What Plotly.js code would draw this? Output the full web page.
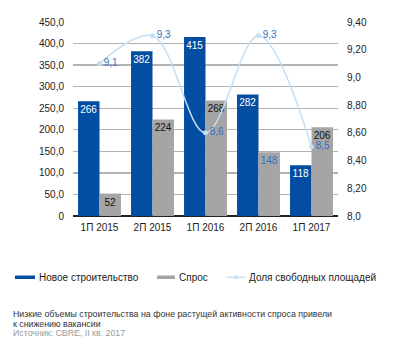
<!DOCTYPE html>
<html>
<head>
<meta charset="utf-8">
<script src="https://cdn.plot.ly/plotly-3.0.1.min.js"></script>
<style>html,body{margin:0;padding:0;background:#fff;}#chart{width:400px;height:347px;}</style>
</head>
<body>
<div id="chart"></div>
<script>
var categories = ["1П 2015", "2П 2015", "1П 2016", "2П 2016", "1П 2017"];
var newConstruction = [266, 382, 415, 282, 118];
var demand = [52, 224, 268, 148, 206];
var vacancy = [9.1, 9.3, 8.6, 9.3, 8.5];
var leftTickVals = [0, 50, 100, 150, 200, 250, 300, 350, 400, 450];
var leftTickText = ["0", "50,0", "100,0", "150,0", "200,0", "250,0", "300,0", "350,0", "400,0", "450,0"];
var rightTickVals = [8.0, 8.2, 8.4, 8.6, 8.8, 9.0, 9.2, 9.4];
var rightTickText = ["8,0", "8,20", "8,40", "8,60", "8,80", "9,0", "9,20", "9,40"];
var seriesNames = ["Новое строительство", "Спрос", "Доля свободных площадей"];
var captionLines = ["Низкие объемы строительства на фоне растущей активности спроса привели", "к снижению вакансии", "Источник: CBRE, II кв. 2017"];

var BLUE = "#034ea2", GRAY = "#a5a5a5", LINE = "#c4def3", LBLUE = "#2f72c0";
var FONT = "Liberation Sans, Arial, sans-serif";
var demandTextColors = demand.map(function (v, i) { return i === 3 ? LBLUE : "#111"; });

var traces = [
  {
    type: "bar", x: categories, y: newConstruction, name: seriesNames[0],
    marker: { color: BLUE }, text: newConstruction.map(String),
    textposition: "inside", insidetextanchor: "end", textangle: 0, constraintext: "none",
    textfont: { color: "#fff", size: 10, family: FONT }, cliponaxis: false
  },
  {
    type: "bar", x: categories, y: demand, name: seriesNames[1],
    marker: { color: GRAY }, text: demand.map(String),
    textposition: "inside", insidetextanchor: "end", textangle: 0, constraintext: "none",
    textfont: { color: demandTextColors, size: 10, family: FONT }, cliponaxis: false
  },
  {
    type: "scatter", mode: "lines+markers+text", x: categories, y: vacancy, yaxis: "y2",
    name: seriesNames[2],
    line: { color: LINE, width: 1.5, shape: "spline", smoothing: 1 },
    marker: { color: LINE, size: 5 },
    text: vacancy.map(function (v) { return v.toFixed(1).replace(".", ","); }),
    textposition: "middle right",
    textfont: { color: LBLUE, size: 10, family: FONT }, cliponaxis: false
  }
];

var W = 400, H = 347, L = 73, R = 62, T = 22, B = 131;
var pw = W - L - R, ph = H - T - B;
function px(x) { return (x - L) / pw; }
function py(y) { return (H - B - y) / ph; }

var shapes = [
  { type: "rect", xref: "paper", yref: "paper", x0: px(15), x1: px(35), y0: py(279), y1: py(275.5), fillcolor: BLUE, line: { width: 0 } },
  { type: "rect", xref: "paper", yref: "paper", x0: px(157), x1: px(175), y0: py(279), y1: py(275.5), fillcolor: GRAY, line: { width: 0 } },
  { type: "line", xref: "paper", yref: "paper", x0: px(227), x1: px(245), y0: py(277.3), y1: py(277.3), line: { color: LINE, width: 1.5 } },
  { type: "circle", xref: "paper", yref: "paper", x0: px(234), x1: px(238), y0: py(279.3), y1: py(275.3), fillcolor: LINE, line: { width: 0 } }
];

var annotations = [
  { xref: "paper", yref: "paper", x: px(37), y: py(277.3), text: seriesNames[0], showarrow: false, xanchor: "left", yanchor: "middle", font: { size: 10, color: "#222", family: FONT } },
  { xref: "paper", yref: "paper", x: px(177), y: py(277.3), text: seriesNames[1], showarrow: false, xanchor: "left", yanchor: "middle", font: { size: 10, color: "#222", family: FONT } },
  { xref: "paper", yref: "paper", x: px(247), y: py(277.3), text: seriesNames[2], showarrow: false, xanchor: "left", yanchor: "middle", font: { size: 10, color: "#222", family: FONT } },
  { xref: "paper", yref: "paper", x: px(12), y: py(314), text: captionLines[0], showarrow: false, xanchor: "left", yanchor: "middle", borderpad: 0, font: { size: 8.8, color: "#333", family: FONT } },
  { xref: "paper", yref: "paper", x: px(12), y: py(323.5), text: captionLines[1], showarrow: false, xanchor: "left", yanchor: "middle", borderpad: 0, font: { size: 8.8, color: "#333", family: FONT } },
  { xref: "paper", yref: "paper", x: px(12), y: py(333), text: captionLines[2], showarrow: false, xanchor: "left", yanchor: "middle", borderpad: 0, font: { size: 8.8, color: "#999", family: FONT } }
];

var layout = {
  width: W, height: H,
  margin: { l: L, r: R, t: T, b: B, pad: 0 },
  paper_bgcolor: "#fff", plot_bgcolor: "#fff",
  font: { family: FONT, size: 10, color: "#222" },
  showlegend: false,
  barmode: "group", bargap: 0.19, bargroupgap: 0,
  xaxis: {
    type: "category", tickfont: { size: 10, color: "#222" },
    showline: false, showgrid: false, ticks: "", zeroline: false, ticklabelstandoff: 4
  },
  yaxis: {
    range: [0, 450], tickvals: leftTickVals, ticktext: leftTickText,
    showgrid: true, gridcolor: "#b3b3b3", gridwidth: 1.3,
    zeroline: true, zerolinecolor: "#222", zerolinewidth: 1.3,
    ticks: "", ticklabelstandoff: 8, tickfont: { size: 10, color: "#222" }, fixedrange: true
  },
  yaxis2: {
    overlaying: "y", side: "right", range: [8.0, 9.4],
    tickvals: rightTickVals, ticktext: rightTickText,
    showgrid: false, zeroline: false, ticks: "", ticklabelstandoff: 8,
    tickfont: { size: 10, color: "#222" }
  },
  shapes: shapes,
  annotations: annotations
};

Plotly.newPlot("chart", traces, layout, { displayModeBar: false, staticPlot: true });
</script>
</body>
</html>
